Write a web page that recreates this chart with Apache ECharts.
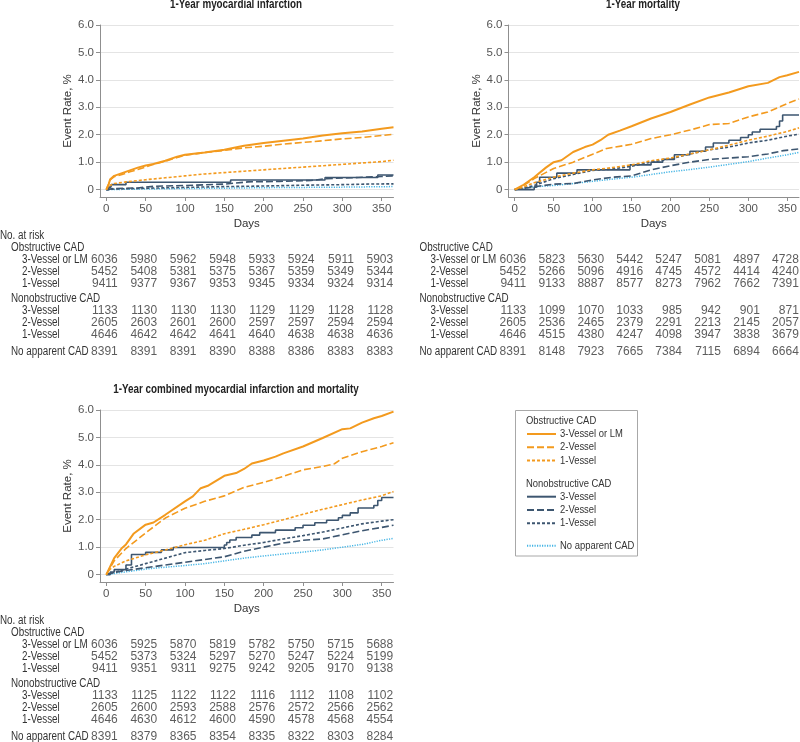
<!DOCTYPE html>
<html><head><meta charset="utf-8">
<script src="https://cdn.jsdelivr.net/npm/echarts@6/dist/echarts.min.js"></script>
<style>html,body{margin:0;padding:0;background:#fff}#c{width:800px;height:742px}</style>
</head><body><div id="c"></div>
<script>
// ---------- DATA ----------
const riskDays = [0, 50, 100, 150, 200, 250, 300, 350];
const xTicks = [0, 50, 100, 150, 200, 250, 300, 350];
const yTicks = [0, 1, 2, 3, 4, 5, 6];
const panelTitles = ['1-Year myocardial infarction', '1-Year mortality', '1-Year combined myocardial infarction and mortality'];
const groupHeaders = ['Obstructive CAD', 'Nonobstructive CAD'];
const obstructiveRows = ['3-Vessel or LM', '2-Vessel', '1-Vessel'];
const nonobstructiveRows = ['3-Vessel', '2-Vessel', '1-Vessel'];
const noCadRow = 'No apparent CAD';

// 1-Year myocardial infarction curves [day, event rate %]
const miObs3 = [[0,0],[3,0.2],[5,0.38],[10,0.5],[20,0.6],[30,0.7],[40,0.8],[50,0.88],[60,0.93],[75,1.05],[90,1.2],[100,1.27],[125,1.35],[150,1.45],[175,1.6],[200,1.7],[225,1.78],[250,1.86],[275,1.97],[300,2.05],[325,2.12],[350,2.22],[365,2.27]];
const miObs2 = [[0,0],[3,0.2],[5,0.35],[10,0.47],[20,0.55],[30,0.65],[40,0.73],[50,0.82],[60,0.92],[75,1.03],[90,1.17],[100,1.25],[125,1.35],[150,1.43],[175,1.52],[200,1.58],[225,1.66],[250,1.72],[275,1.78],[300,1.85],[325,1.9],[350,1.97],[365,2.02]];
const miObs1 = [[0,0],[3,0.12],[5,0.18],[10,0.22],[25,0.28],[50,0.36],[75,0.43],[100,0.5],[125,0.57],[150,0.62],[175,0.67],[200,0.72],[225,0.77],[250,0.82],[275,0.87],[300,0.92],[325,0.97],[350,1.02],[365,1.07]];
const miNon3 = [[0,0],[3,0.09],[6,0.18],[25,0.27],[158,0.35],[278,0.44],[345,0.53],[365,0.53]];
const miNon2 = [[0,0],[10,0.04],[40,0.06],[60,0.12],[100,0.15],[150,0.2],[180,0.28],[220,0.3],[260,0.33],[280,0.4],[320,0.44],[350,0.48],[365,0.5]];
const miNon1 = [[0,0],[10,0.02],[50,0.05],[100,0.08],[150,0.11],[200,0.13],[250,0.16],[300,0.18],[330,0.2],[365,0.21]];
const miNone = [[0,0],[50,0.02],[100,0.04],[150,0.05],[200,0.07],[250,0.08],[300,0.09],[365,0.11]];

// 1-Year mortality curves
const moObs3 = [[0,0],[10,0.15],[25,0.45],[40,0.8],[50,1.0],[60,1.07],[75,1.37],[90,1.55],[100,1.64],[110,1.8],[120,2.0],[135,2.15],[150,2.31],[175,2.59],[200,2.83],[225,3.1],[250,3.36],[275,3.54],[300,3.77],[325,3.89],[340,4.1],[350,4.17],[365,4.29]];
const moObs2 = [[0,0],[10,0.12],[25,0.4],[50,0.77],[75,1.0],[100,1.29],[118,1.5],[150,1.65],[175,1.86],[200,2.0],[225,2.17],[250,2.37],[275,2.41],[300,2.65],[325,2.83],[350,3.14],[365,3.3]];
const moObs1 = [[0,0],[10,0.08],[25,0.25],[50,0.45],[75,0.6],[100,0.72],[125,0.8],[150,0.9],[175,1.05],[200,1.15],[225,1.3],[250,1.45],[275,1.62],[300,1.8],[325,1.95],[350,2.12],[365,2.25]];
const moNon3 = [[0,0],[25,0.09],[28,0.27],[32,0.45],[54,0.6],[80,0.72],[148,0.9],[175,1.0],[190,1.1],[205,1.27],[225,1.4],[245,1.55],[255,1.7],[275,1.8],[290,1.9],[300,2.0],[305,2.1],[315,2.2],[336,2.3],[340,2.5],[344,2.72],[365,2.72]];
const moNon2 = [[0,0],[10,0.04],[25,0.1],[50,0.2],[75,0.22],[100,0.35],[125,0.45],[150,0.5],[175,0.72],[200,0.87],[225,1.0],[250,1.1],[275,1.15],[300,1.2],[325,1.3],[345,1.42],[365,1.48]];
const moNon1 = [[0,0],[10,0.05],[25,0.15],[50,0.4],[75,0.55],[100,0.7],[125,0.75],[150,0.85],[175,1.0],[200,1.12],[225,1.3],[250,1.45],[275,1.55],[300,1.7],[325,1.8],[350,1.95],[365,2.02]];
const moNone = [[0,0],[25,0.1],[50,0.15],[75,0.22],[100,0.3],[125,0.38],[150,0.45],[175,0.55],[200,0.65],[225,0.73],[250,0.82],[275,0.92],[300,1.02],[325,1.15],[350,1.27],[365,1.36]];

// 1-Year combined curves
const cbObs3 = [[0,0],[5,0.3],[10,0.6],[20,0.97],[25,1.1],[35,1.5],[50,1.82],[60,1.9],[75,2.18],[100,2.67],[110,2.85],[120,3.15],[130,3.25],[150,3.6],[165,3.7],[175,3.85],[185,4.05],[200,4.16],[215,4.3],[225,4.42],[250,4.67],[275,4.98],[300,5.3],[310,5.33],[325,5.54],[340,5.7],[350,5.78],[365,5.94]];
const cbObs2 = [[0,0],[5,0.25],[10,0.5],[25,0.95],[50,1.52],[75,2.06],[100,2.42],[125,2.67],[150,2.87],[175,3.18],[200,3.36],[225,3.58],[250,3.82],[275,3.94],[290,4.04],[300,4.24],[325,4.48],[350,4.67],[365,4.81]];
const cbObs1 = [[0,0],[5,0.2],[10,0.3],[25,0.5],[50,0.72],[75,0.9],[100,1.09],[125,1.25],[150,1.49],[175,1.65],[200,1.82],[225,2.0],[250,2.2],[275,2.38],[300,2.55],[325,2.72],[350,2.87],[365,3.03]];
const cbNon3 = [[0,0],[5,0.09],[10,0.18],[25,0.35],[32,0.73],[50,0.81],[70,0.9],[85,0.99],[150,1.08],[153,1.17],[157,1.26],[165,1.35],[185,1.44],[195,1.53],[215,1.62],[240,1.71],[250,1.8],[265,1.89],[280,1.98],[295,2.07],[300,2.16],[310,2.25],[320,2.43],[340,2.52],[345,2.7],[350,2.81],[365,2.81]];
const cbNon2 = [[0,0],[10,0.08],[25,0.15],[50,0.25],[75,0.35],[100,0.45],[125,0.55],[150,0.65],[175,0.85],[200,1.0],[225,1.15],[250,1.25],[275,1.3],[300,1.45],[325,1.6],[350,1.72],[365,1.8]];
const cbNon1 = [[0,0],[10,0.08],[25,0.2],[50,0.4],[75,0.6],[100,0.8],[125,0.88],[150,0.95],[175,1.07],[200,1.17],[225,1.3],[250,1.42],[275,1.55],[300,1.7],[325,1.85],[350,1.95],[365,2.0]];
const cbNone = [[0,0],[25,0.1],[50,0.2],[75,0.27],[100,0.33],[125,0.4],[150,0.5],[175,0.6],[200,0.68],[225,0.75],[250,0.82],[275,0.9],[300,1.0],[325,1.1],[350,1.25],[365,1.32]];

// No. at risk
const miRiskObs3 = [6036,5980,5962,5948,5933,5924,5911,5903];
const miRiskObs2 = [5452,5408,5381,5375,5367,5359,5349,5344];
const miRiskObs1 = [9411,9377,9367,9353,9345,9334,9324,9314];
const miRiskNon3 = [1133,1130,1130,1130,1129,1129,1128,1128];
const miRiskNon2 = [2605,2603,2601,2600,2597,2597,2594,2594];
const miRiskNon1 = [4646,4642,4642,4641,4640,4638,4638,4636];
const miRiskNone = [8391,8391,8391,8390,8388,8386,8383,8383];

const moRiskObs3 = [6036,5823,5630,5442,5247,5081,4897,4728];
const moRiskObs2 = [5452,5266,5096,4916,4745,4572,4414,4240];
const moRiskObs1 = [9411,9133,8887,8577,8273,7962,7662,7391];
const moRiskNon3 = [1133,1099,1070,1033,985,942,901,871];
const moRiskNon2 = [2605,2536,2465,2379,2291,2213,2145,2057];
const moRiskNon1 = [4646,4515,4380,4247,4098,3947,3838,3679];
const moRiskNone = [8391,8148,7923,7665,7384,7115,6894,6664];

const cbRiskObs3 = [6036,5925,5870,5819,5782,5750,5715,5688];
const cbRiskObs2 = [5452,5373,5324,5297,5270,5247,5224,5199];
const cbRiskObs1 = [9411,9351,9311,9275,9242,9205,9170,9138];
const cbRiskNon3 = [1133,1125,1122,1122,1116,1112,1108,1102];
const cbRiskNon2 = [2605,2600,2593,2588,2576,2572,2566,2562];
const cbRiskNon1 = [4646,4630,4612,4600,4590,4578,4568,4554];
const cbRiskNone = [8391,8379,8365,8354,8335,8322,8303,8284];

// ---------- STYLE / LAYOUT ----------
const FF = "'Liberation Sans', Arial, sans-serif";
const NARROW = 0.82; // horizontal squeeze to imitate a condensed face
const ORANGE = '#F39A1E', SLATE = '#3D5670', SKY = '#45B5E5';
const AXIS = '#8f8f8f', GRID = '#e4e4e4', TXT = '#333', TICK = '#555';

const seriesStyles = [
  {name:'Obstructive CAD|3-Vessel or LM', color:ORANGE, width:2,   dash:'solid', step:false},
  {name:'Obstructive CAD|2-Vessel',       color:ORANGE, width:1.6, dash:[7,3],  step:false},
  {name:'Obstructive CAD|1-Vessel',       color:ORANGE, width:1.6, dash:[3,2],  step:false},
  {name:'Nonobstructive CAD|3-Vessel',    color:SLATE,  width:1.6, dash:'solid', step:'end'},
  {name:'Nonobstructive CAD|2-Vessel',    color:SLATE,  width:1.6, dash:[7,3],  step:false},
  {name:'Nonobstructive CAD|1-Vessel',    color:SLATE,  width:1.6, dash:[3,2],  step:false},
  {name:'No CAD|No apparent CAD',         color:SKY,    width:1.5, dash:[1.2,1.3], step:false}
];

const panels = [
  {title:panelTitles[0], curves:[miObs3,miObs2,miObs1,miNon3,miNon2,miNon1,miNone],
   risk:[miRiskObs3,miRiskObs2,miRiskObs1,miRiskNon3,miRiskNon2,miRiskNon1,miRiskNone],
   left:100, width:293.5, top:25, noAtRisk:true},
  {title:panelTitles[1], curves:[moObs3,moObs2,moObs1,moNon3,moNon2,moNon1,moNone],
   risk:[moRiskObs3,moRiskObs2,moRiskObs1,moRiskNon3,moRiskNon2,moRiskNon1,moRiskNone],
   left:508.5, width:290.5, top:25, noAtRisk:false},
  {title:panelTitles[2], curves:[cbObs3,cbObs2,cbObs1,cbNon3,cbNon2,cbNon1,cbNone],
   risk:[cbRiskObs3,cbRiskObs2,cbRiskObs1,cbRiskNon3,cbRiskNon2,cbRiskNon1,cbRiskNone],
   left:100, width:293.5, top:410, noAtRisk:true}
];
const PLOT_H = 172, ROW_H = 12, LABEL_INDENT = 89, ROW_INDENT = 11;

const grid = [], xAxis = [], yAxis = [], series = [], graphic = [];

function narrowText(text, x, y, opts) {
  opts = opts || {};
  return {type: 'text', x: x, y: y, scaleX: NARROW, silent: true,
    style: {text: text, align: opts.align || 'left', verticalAlign: 'middle', fontFamily: FF,
      fontSize: opts.size || 12, fontWeight: opts.weight || 'normal', fill: opts.fill || TXT}};
}

panels.forEach((p, pi) => {
  const gi = grid.length;
  const axisBottom = p.top + PLOT_H;
  grid.push({left: p.left, top: p.top, width: p.width, height: PLOT_H});
  xAxis.push({
    gridIndex: gi, type: 'value', min: -8, max: 365,
    axisLine: {show: true, onZero: false, lineStyle: {color: AXIS, width: 1}},
    axisTick: {show: true, customValues: xTicks, length: 4, lineStyle: {color: AXIS}},
    axisLabel: {customValues: xTicks, margin: 6, color: TICK, fontFamily: FF, fontSize: 11.5},
    splitLine: {show: false},
    name: 'Days', nameLocation: 'middle', nameGap: 21,
    nameTextStyle: {color: TXT, fontFamily: FF, fontSize: 11.5}
  });
  yAxis.push({
    gridIndex: gi, type: 'value', min: -0.27, max: 6,
    axisLine: {show: true, onZero: false, lineStyle: {color: AXIS, width: 1}},
    axisTick: {show: true, customValues: yTicks, length: 4, lineStyle: {color: AXIS}},
    axisLabel: {customValues: yTicks, margin: 6, color: TICK, fontFamily: FF, fontSize: 11.5,
      formatter: (v) => v === 0 ? '0' : v.toFixed(1)},
    splitLine: {show: true, lineStyle: {color: GRID, width: 1}},
    name: 'Event Rate, %', nameLocation: 'middle', nameGap: 25, nameRotate: 90,
    nameTextStyle: {color: TXT, fontFamily: FF, fontSize: 11.5}
  });
  [6,5,4,3,2,1,0].forEach((k) => {
    const st = seriesStyles[k];
    series.push({
      type: 'line', name: st.name, xAxisIndex: gi, yAxisIndex: gi,
      data: p.curves[k], symbol: 'none', showSymbol: false, step: st.step, silent: true,
      lineStyle: {color: st.color, width: st.width, type: st.dash}, itemStyle: {color: st.color},
      clip: true
    });
  });
  graphic.push(narrowText(p.title, p.left + (pi === 1 ? 134.5 : 136), p.top - 20, {align: 'center', weight: 'bold', fill: '#222'}));
  if (p.noAtRisk) graphic.push(narrowText('No. at risk', 0, axisBottom + 39));

  const groups = [
    {cats: [groupHeaders[0]].concat(obstructiveRows), rows: [0,1,2], offset: 1, top: axisBottom + 45},
    {cats: [groupHeaders[1]].concat(nonobstructiveRows), rows: [3,4,5], offset: 1, top: axisBottom + 96},
    {cats: [noCadRow], rows: [6], offset: 0, top: axisBottom + 149}
  ];
  groups.forEach((g) => {
    const tg = grid.length;
    grid.push({left: p.left, top: g.top, width: p.width, height: ROW_H * g.cats.length});
    xAxis.push({gridIndex: tg, type: 'value', min: -8, max: 365, show: false});
    yAxis.push({gridIndex: tg, type: 'category', data: g.cats, inverse: true, show: false});
    g.cats.forEach((c, j) => {
      const isHeader = (j === 0);
      graphic.push(narrowText(c, p.left - LABEL_INDENT + (isHeader ? 0 : ROW_INDENT), g.top + ROW_H * (j + 0.5)));
    });
    const pts = [];
    g.rows.forEach((ri, j) => {
      p.risk[ri].forEach((val, c) => pts.push([riskDays[c], j + g.offset, val]));
    });
    series.push({
      type: 'scatter', xAxisIndex: tg, yAxisIndex: tg, data: pts, symbolSize: 1, silent: true,
      itemStyle: {color: 'rgba(0,0,0,0)'},
      label: {show: true, formatter: (d) => String(d.value[2]), position: [12, 0.5], align: 'right', verticalAlign: 'middle',
        color: TXT, fontFamily: FF, fontSize: 12}
    });
  });
});

// legend box, headers, labels
const LEG_X = 526, LEG_ROW = 13.3;
const legendBlocks = [
  {header: groupHeaders[0], headerY: 421, names: seriesStyles.slice(0,3).map(s => s.name), firstY: 434},
  {header: groupHeaders[1], headerY: 483.5, names: seriesStyles.slice(3,6).map(s => s.name), firstY: 496.7},
  {header: null, names: seriesStyles.slice(6).map(s => s.name), firstY: 545.7}
];
graphic.push({type: 'rect', silent: true, shape: {x: 515.5, y: 410.5, width: 122, height: 145.5}, style: {fill: 'none', stroke: '#a8a8a8', lineWidth: 1}});
const legend = [];
legendBlocks.forEach((b) => {
  if (b.header) graphic.push(narrowText(b.header, LEG_X, b.headerY, {size: 11.5}));
  b.names.forEach((n, k) => graphic.push(narrowText(n.split('|')[1], LEG_X + 34, b.firstY + k * LEG_ROW, {size: 11.5})));
  legend.push({
    data: b.names, orient: 'vertical', left: LEG_X, top: b.firstY - LEG_ROW / 2, padding: 0,
    itemWidth: 29, itemHeight: LEG_ROW, itemGap: 0, selectedMode: false,
    itemStyle: {opacity: 0},
    formatter: () => ' ',
    textStyle: {fontFamily: FF, fontSize: 10, lineHeight: LEG_ROW}
  });
});

const chart = echarts.init(document.getElementById('c'), null, {renderer: 'canvas'});
chart.setOption({animation: false, backgroundColor: '#fff', grid, xAxis, yAxis, series, legend, graphic});
</script></body></html>
